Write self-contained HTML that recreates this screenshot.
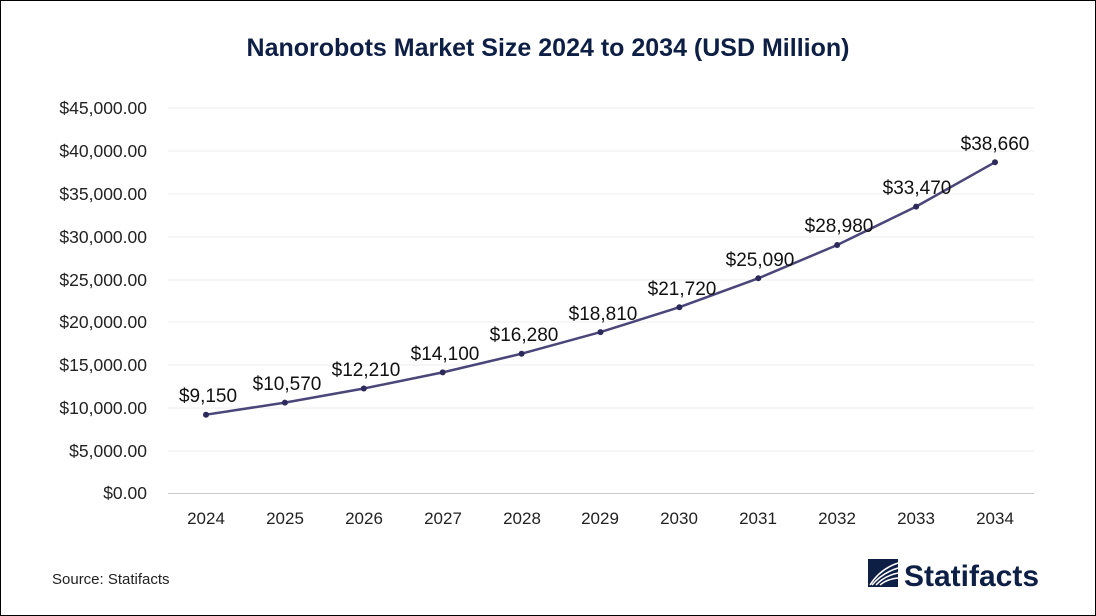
<!DOCTYPE html>
<html><head><meta charset="utf-8"><style>
body{margin:0;background:#fff}
svg{display:block;font-family:"Liberation Sans",sans-serif}
</style></head><body>
<svg width="1096" height="616" viewBox="0 0 1096 616">
<rect x="0.5" y="0.5" width="1095" height="615" fill="#fff" stroke="#000"/>
<text x="548" y="56" text-anchor="middle" font-size="25" font-weight="bold" fill="#0e1f45">Nanorobots Market Size 2024 to 2034 (USD Million)</text>
<g stroke="#ececec" stroke-width="1">
<line x1="168" x2="1034" y1="108" y2="108"/><line x1="168" x2="1034" y1="151" y2="151"/>
<line x1="168" x2="1034" y1="194" y2="194"/><line x1="168" x2="1034" y1="237" y2="237"/>
<line x1="168" x2="1034" y1="280" y2="280"/><line x1="168" x2="1034" y1="322" y2="322"/>
<line x1="168" x2="1034" y1="365" y2="365"/><line x1="168" x2="1034" y1="408" y2="408"/>
<line x1="168" x2="1034" y1="451" y2="451"/>
</g>
<line x1="168" x2="1034" y1="493.5" y2="493.5" stroke="#c8c8c8"/>
<g font-size="17.5" fill="#222" text-anchor="end">
<text x="147" y="114">$45,000.00</text><text x="147" y="157">$40,000.00</text>
<text x="147" y="200">$35,000.00</text><text x="147" y="243">$30,000.00</text>
<text x="147" y="286">$25,000.00</text><text x="147" y="328">$20,000.00</text>
<text x="147" y="371">$15,000.00</text><text x="147" y="414">$10,000.00</text>
<text x="147" y="457">$5,000.00</text><text x="147" y="499">$0.00</text>
</g>
<g font-size="17" fill="#222" text-anchor="middle">
<text x="206" y="524">2024</text><text x="285" y="524">2025</text><text x="364" y="524">2026</text>
<text x="443" y="524">2027</text><text x="522" y="524">2028</text><text x="600" y="524">2029</text>
<text x="679" y="524">2030</text><text x="758" y="524">2031</text><text x="837" y="524">2032</text>
<text x="916" y="524">2033</text><text x="995" y="524">2034</text>
</g>
<polyline fill="none" stroke="#4b4679" stroke-width="2.5" points="206,414.7 284.9,402.6 363.8,388.5 442.7,372.4 521.6,353.7 600.5,332.1 679.4,307.2 758.3,278.3 837.2,245 916.1,206.6 995,162.2"/>
<g fill="#2c2a5a">
<circle cx="206" cy="414.7" r="3"/><circle cx="284.9" cy="402.6" r="3"/><circle cx="363.8" cy="388.5" r="3"/>
<circle cx="442.7" cy="372.4" r="3"/><circle cx="521.6" cy="353.7" r="3"/><circle cx="600.5" cy="332.1" r="3"/>
<circle cx="679.4" cy="307.2" r="3"/><circle cx="758.3" cy="278.3" r="3"/><circle cx="837.2" cy="245" r="3"/>
<circle cx="916.1" cy="206.6" r="3"/><circle cx="995" cy="162.2" r="3"/>
</g>
<g font-size="19" fill="#111" text-anchor="middle">
<text x="208" y="402">$9,150</text><text x="287" y="390">$10,570</text><text x="366" y="376">$12,210</text>
<text x="445" y="360">$14,100</text><text x="524" y="341">$16,280</text><text x="603" y="320">$18,810</text>
<text x="682" y="295">$21,720</text><text x="760" y="266">$25,090</text><text x="839" y="232">$28,980</text>
<text x="917" y="194">$33,470</text><text x="995" y="150">$38,660</text>
</g>
<text x="52" y="584" font-size="15" fill="#222">Source: Statifacts</text>
<g transform="translate(868,559)">
<rect width="30" height="28" fill="#0e1f45"/>
<path d="M2,26 Q12,10 30,4 M4,26 Q14,14 30,9 M8,26 Q16,17 30,14 M12,26 Q19,20 30,19" stroke="#fff" stroke-width="1.5" fill="none"/>
</g>
<text x="904" y="586" font-size="30" font-weight="bold" fill="#0e1f45">Statifacts</text>
</svg>
</body></html>
